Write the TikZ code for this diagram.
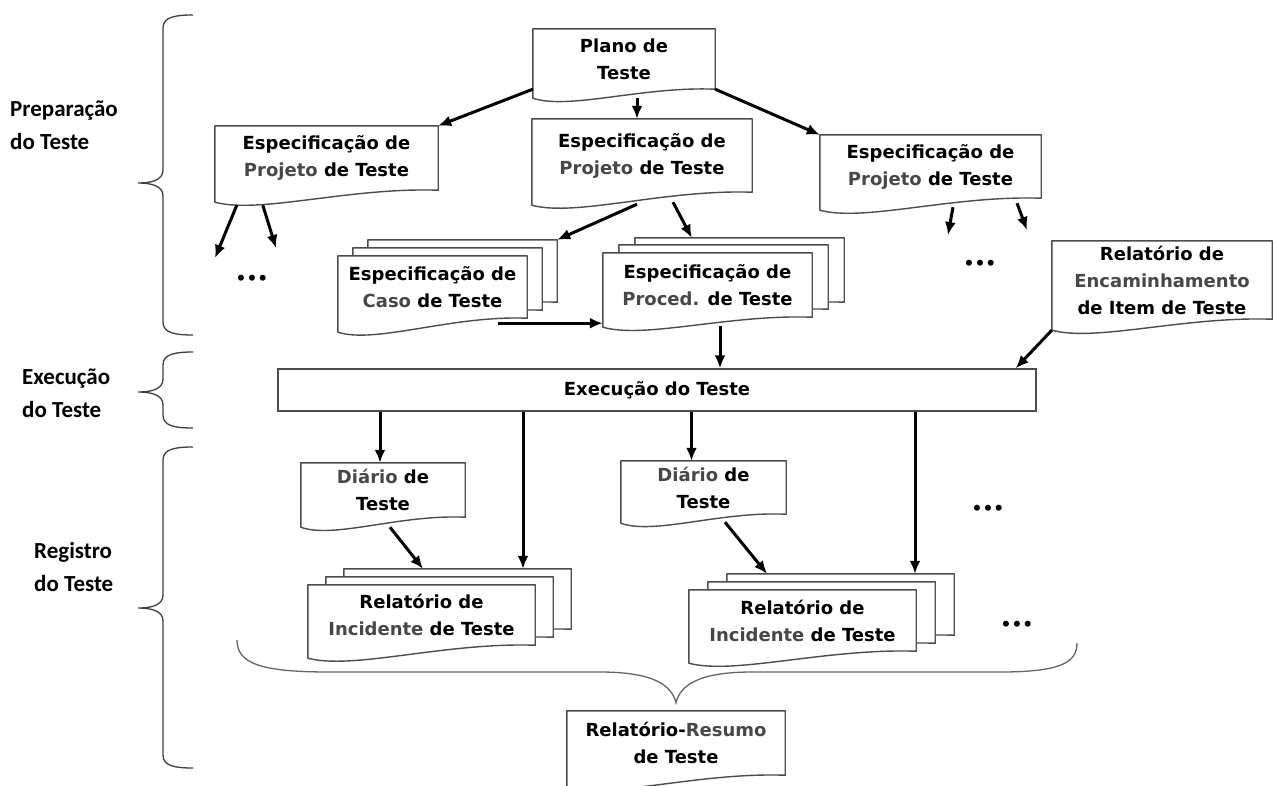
\documentclass[tikz,border=0pt]{standalone}
\usepackage{fontspec}
\setmainfont{DejaVu Sans}
\newfontfamily\labfont{Carlito}
\usetikzlibrary{calc,arrows.meta,backgrounds}
\newcommand\rg[1]{{\color{black!72}#1}}
\newcommand\docout[2]{%
  \draw[docline] (#1.north west) -- (#1.north east) -- (#1.south east)
    .. controls ($(#1.south west)!0.6!(#1.south east)+(0pt,3pt)$)
    and ($(#1.south west)!0.2!(#1.south east)+(0pt,-#2pt-12pt)$)
    .. ($(#1.south west)+(0pt,-#2pt)$) -- cycle;}
\newcommand\mybrace[3]{%
  \draw[brace] (193,#1) .. controls (175,#1) and (163,#1+2) .. (163,#1+13)
    -- (163,#2-13) .. controls (163,#2-3) and (152,#2) .. (138,#2)
    .. controls (152,#2) and (163,#2+3) .. (163,#2+13)
    -- (163,#3-13) .. controls (163,#3-2) and (175,#3) .. (193,#3);}
\tikzset{
  docnode/.style={rectangle, inner sep=0pt, align=center, font=\bfseries\fontsize{18}{27}\selectfont},
  docline/.style={draw=black!70, line width=1.4pt, fill=white, line join=round},
  arr/.style={-{Latex[length=13pt,width=11pt]}, line width=3pt, black},
  brace/.style={draw=black!75, line width=1.3pt},
  lab/.style={font=\labfont\bfseries\fontsize{23}{33}\selectfont, align=left, anchor=west, inner sep=0pt},
  dots/.style={font=\bfseries\fontsize{17}{17}\selectfont, inner sep=0pt},
}
\begin{document}
\begin{tikzpicture}[x=1pt,y=-1pt]
\useasboundingbox (0,0) rectangle (1273,785);
\begin{pgfonlayer}{background}
\fill[white] (0,0) rectangle (1273,785);
\end{pgfonlayer}

% nodes
\node[docnode, minimum width=182pt, minimum height=60pt] (plano) at (624,59) {Plano de\\Teste};
\node[docnode, minimum width=223pt, minimum height=64pt] (specL) at (326.5,158) {Especificação de\\\rg{Projeto} de Teste};
\node[docnode, minimum width=220pt, minimum height=73pt] (specM) at (642,155.5) {Especificação de\\\rg{Projeto} de Teste};
\node[docnode, minimum width=221pt, minimum height=63pt] (specR) at (930.5,166.5) {Especificação de\\\rg{Projeto} de Teste};

\node[docnode, minimum width=189pt, minimum height=62pt] (casoC) at (462.5,271) {};
\node[docnode, minimum width=189pt, minimum height=62pt] (casoB) at (447.5,279) {};
\node[docnode, minimum width=189pt, minimum height=62pt] (caso) at (432.5,287) {Especificação de\\\rg{Caso} de Teste};

\node[docnode, minimum width=209pt, minimum height=64pt] (procC) at (739.5,270) {};
\node[docnode, minimum width=209pt, minimum height=64pt] (procB) at (723.5,277) {};
\node[docnode, minimum width=209pt, minimum height=64pt] (proced) at (707.5,285) {Especificação de\\\rg{Proced.} de Teste};

\node[docnode, minimum width=220pt, minimum height=78pt] (encam) at (1162,280) {Relatório de\\\rg{Encaminhamento}\\de Item de Teste};

\node[draw=black!70, line width=1.4pt, fill=white, minimum width=758pt, minimum height=42pt, inner sep=0pt,
      font=\bfseries\fontsize{18}{27}\selectfont] (exec) at (657,390) {Execução do Teste};

\node[docnode, minimum width=164pt, minimum height=54pt] (diario1) at (383,490) {\rg{Diário} de\\Teste};
\node[docnode, minimum width=165pt, minimum height=53pt] (diario2) at (703.5,487.5) {\rg{Diário} de\\Teste};

\node[docnode, minimum width=227pt, minimum height=60pt] (inc1C) at (457.5,599) {};
\node[docnode, minimum width=227pt, minimum height=60pt] (inc1B) at (439.5,607) {};
\node[docnode, minimum width=227pt, minimum height=60pt] (inc1) at (421.5,615) {Relatório de\\\rg{Incidente} de Teste};

\node[docnode, minimum width=227pt, minimum height=61pt] (inc2C) at (840.5,604.5) {};
\node[docnode, minimum width=227pt, minimum height=61pt] (inc2B) at (821.5,612.5) {};
\node[docnode, minimum width=227pt, minimum height=61pt] (inc2) at (802.5,620.5) {Relatório de\\\rg{Incidente} de Teste};

\node[docnode, minimum width=218pt, minimum height=64pt] (resumo) at (676,743) {Relatório-\rg{Resumo}\\de Teste};

\node[dots] (dotsA) at (252,280) {•••};
\node[dots] (dotsB) at (980,265) {•••};
\node[dots] (dotsC) at (988,510) {•••};
\node[dots] (dotsD) at (1017,626) {•••};

\node[lab] (prep) at (10,125) {Preparação\\do Teste};
\node[lab] (exe) at (22,393) {Execução\\do Teste};
\node[lab] (reg) at (34,567) {Registro\\do Teste};

% outlines
\begin{pgfonlayer}{background}
\docout{plano}{9}
\docout{specL}{12}
\docout{specM}{13}
\docout{specR}{12}
\docout{casoC}{14}\docout{casoB}{14}\docout{caso}{14}
\docout{procC}{10}\docout{procB}{10}\docout{proced}{10}
\docout{encam}{11}
\docout{diario1}{10}
\docout{diario2}{9}
\docout{inc1C}{13}\docout{inc1B}{13}\docout{inc1}{13}
\docout{inc2C}{12}\docout{inc2B}{12}\docout{inc2}{12}
\docout{resumo}{12}
\end{pgfonlayer}

% connectors
\draw[arr] (plano.south west) -- (specL.north east);
\draw[arr] ($(plano.south)+(13pt,-9pt)$) coordinate (p1) -- (p1 |- specM.north);
\draw[arr] (plano.south east) -- (specR.north west);

\coordinate (dl1) at (215,258);
\coordinate (dl2) at (276,248);
\draw[arr] ($(specL.south west)+(22pt,-15pt)$) -- (dl1);
\draw[arr] ($(specL.south west)+(48pt,-15pt)$) -- (dl2);

\draw[arr] ($(specM.south)+(-5pt,-12pt)$) -- (casoC.north east);
\draw[arr] ($(specM.south)+(31pt,-10pt)$) -- ($(procC.north west)+(57pt,0pt)$);

\coordinate (dr1) at (948,235);
\coordinate (dr2) at (1027,230);
\draw[arr] ($(specR.south)+(22.5pt,-9pt)$) -- (dr1);
\draw[arr] ($(specR.south)+(86.5pt,-5pt)$) -- (dr2);

\draw[arr] ($(caso.south east)+(-29pt,-5pt)$) coordinate (c1) -- (c1 -| proced.west);
\draw[arr] ($(proced.south)+(12.5pt,-9pt)$) coordinate (c2) -- (c2 |- exec.north);
\draw[arr] ($(encam.south west)+(0pt,-11pt)$) -- ($(exec.north east)+(-21pt,0pt)$);

\path ($(diario1.north)+(-3pt,0pt)$) coordinate (c3);
\draw[arr] (exec.south -| c3) -- (c3);
\path ($(inc1C.north)+(65.5pt,0pt)$) coordinate (c4);
\draw[arr] (exec.south -| c4) -- (c4);
\path ($(diario2.north)+(-12pt,0pt)$) coordinate (c5);
\draw[arr] (exec.south -| c5) -- (c5);
\path ($(inc2C.north)+(74.5pt,0pt)$) coordinate (c6);
\draw[arr] (exec.south -| c6) -- (c6);

\draw[arr] ($(diario1.south)+(7pt,-10pt)$) -- ($(inc1C.north)+(-34.5pt,0pt)$);
\draw[arr] ($(diario2.south)+(21.5pt,-8pt)$) -- ($(inc2C.north)+(-73.5pt,0pt)$);

% braces
\mybrace{15}{183}{335}
\mybrace{352}{392}{428}
\mybrace{447}{608}{768}

\coordinate (btip) at ($(resumo.north)+(0pt,8pt)$);
\draw[draw=black!60, line width=1.3pt] (237,640) .. controls (237,664) and (262,672) .. (330,672)
  -- (600,672) .. controls (655,672) and (672,686) .. (btip)
  .. controls (680,686) and (697,672) .. (752,672)
  -- (1000,672) .. controls (1062,672) and (1077,662) .. (1077,643);
\end{tikzpicture}
\end{document}
